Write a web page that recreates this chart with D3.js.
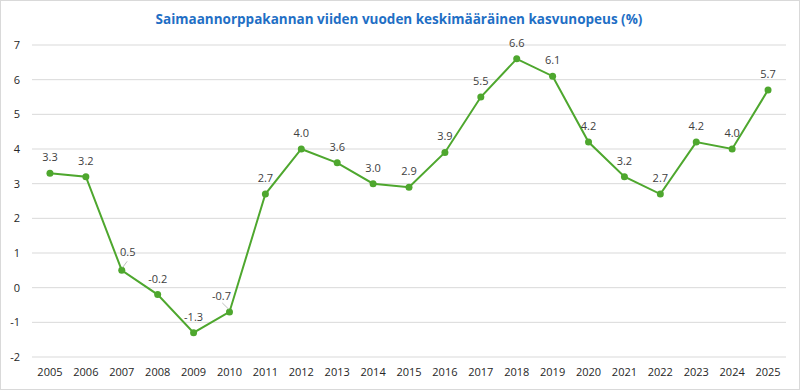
<!DOCTYPE html>
<html>
<head>
<meta charset="utf-8">
<script src="https://cdn.jsdelivr.net/npm/d3@7"></script>
<style>
  body { margin: 0; background: #fff; }
  text { font-family: "Open Sans", "Noto Sans", sans-serif; }
</style>
</head>
<body>
<div id="chart"></div>
<script>
// Chart data
const years = ["2005", "2006", "2007", "2008", "2009", "2010", "2011", "2012", "2013", "2014",
               "2015", "2016", "2017", "2018", "2019", "2020", "2021", "2022", "2023", "2024", "2025"];
const growth = [3.3, 3.2, 0.5, -0.2, -1.3, -0.7, 2.7, 4.0, 3.6, 3.0,
                2.9, 3.9, 5.5, 6.6, 6.1, 4.2, 3.2, 2.7, 4.2, 4.0, 5.7];
const yTicks = [-2, -1, 0, 1, 2, 3, 4, 5, 6, 7];
const title = "Saimaannorppakannan viiden vuoden keskimääräinen kasvunopeus (%)";

const W = 800, H = 390;
const margin = { top: 45, right: 14, bottom: 33, left: 32 };
const width = W - margin.left - margin.right;
const height = H - margin.top - margin.bottom;

// plain hyphen for negatives, like the original
const fmt1 = v => d3.format(".1f")(v).replace("\u2212", "-");
const fmt0 = v => d3.format("d")(v).replace("\u2212", "-");

const svg = d3.select("#chart").append("svg")
    .attr("width", W)
    .attr("height", H);

// outer border
svg.append("rect")
    .attr("x", 0.5).attr("y", 0.5)
    .attr("width", W - 1).attr("height", H - 1)
    .attr("fill", "#fff")
    .attr("stroke", "#d9d9d9");

svg.append("text")
    .attr("x", 399)
    .attr("y", 24)
    .attr("text-anchor", "middle")
    .attr("fill", "#1f6fc5")
    .style("font-size", "13.5px")
    .style("font-weight", "700")
    .text(title);

const g = svg.append("g")
    .attr("transform", "translate(" + margin.left + "," + margin.top + ")");

const x = d3.scaleBand().domain(years).range([0, width]);
const y = d3.scaleLinear().domain([-2, 7]).range([height, 0]);
const cx = d => x(d) + x.bandwidth() / 2;

// gridlines
g.selectAll(".grid")
    .data(yTicks)
    .enter().append("line")
    .attr("x1", 0).attr("x2", width)
    .attr("y1", d => y(d)).attr("y2", d => y(d))
    .attr("stroke", "#d9d9d9")
    .attr("stroke-width", 1);

// y axis labels
const yAxis = g.append("g")
    .call(d3.axisLeft(y).tickValues(yTicks).tickFormat(fmt0).tickSize(0).tickPadding(12));
yAxis.select(".domain").remove();
yAxis.selectAll("text")
    .attr("fill", "#262626")
    .style("font-size", "11px");

// x axis labels
const xAxis = g.append("g")
    .attr("transform", "translate(0," + height + ")")
    .call(d3.axisBottom(x).tickSize(0).tickPadding(11));
xAxis.select(".domain").remove();
xAxis.selectAll("text")
    .attr("fill", "#262626")
    .style("font-size", "11px");

// line
g.append("path")
    .datum(growth)
    .attr("fill", "none")
    .attr("stroke", "#4ea72e")
    .attr("stroke-width", 2)
    .attr("d", d3.line()
        .x((d, i) => cx(years[i]))
        .y(d => y(d)));

// markers
g.selectAll(".dot")
    .data(growth)
    .enter().append("circle")
    .attr("cx", (d, i) => cx(years[i]))
    .attr("cy", d => y(d))
    .attr("r", 3.5)
    .attr("fill", "#4ea72e");

// label nudges for labels that were moved off the line (with leader lines)
const nudge = { "2007": [6, -2], "2010": [-8, 0] };

const labels = g.selectAll(".lbl")
    .data(growth)
    .enter().append("g");

labels.each(function(d, i) {
    const yr = years[i];
    const n = nudge[yr] || [0, 0];
    const px = cx(yr), py = y(d);
    if (nudge[yr]) {
        d3.select(this).append("line")
            .attr("x1", px + (n[0] > 0 ? 1 : -1)).attr("y1", py - 3)
            .attr("x2", px + n[0] * 0.9).attr("y2", py - 9)
            .attr("stroke", "#bfbfbf")
            .attr("stroke-width", 1);
    }
    d3.select(this).append("text")
        .attr("x", px + n[0])
        .attr("y", py - 12 + n[1])
        .attr("text-anchor", "middle")
        .attr("fill", "#404040")
        .style("font-size", "11px")
        .text(fmt1(d));
});
</script>
</body>
</html>
